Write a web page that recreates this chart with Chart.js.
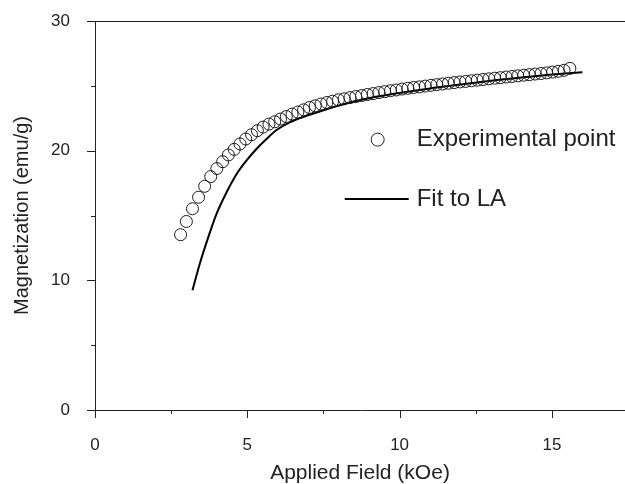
<!DOCTYPE html>
<html>
<head>
<meta charset="utf-8">
<script src="https://cdn.jsdelivr.net/npm/chart.js@4.4.1/dist/chart.umd.min.js"></script>
<style>
  html, body { margin: 0; padding: 0; background: #fff; }
  canvas { display: block; }
</style>
</head>
<body>
<canvas id="magChart" width="625" height="484"></canvas>
<script>
// measured magnetization (open circles)
const expField = [2.81, 3.00, 3.20, 3.40, 3.60, 3.80, 4.00, 4.19, 4.38, 4.57, 4.76, 4.95, 5.14, 5.33, 5.52, 5.71, 5.90,
  6.09, 6.28, 6.47, 6.66, 6.85, 7.04, 7.23, 7.42, 7.61, 7.80, 7.99, 8.18, 8.37, 8.56, 8.75, 8.94, 9.13, 9.32, 9.51,
  9.70, 9.89, 10.08, 10.27, 10.46, 10.65, 10.84, 11.03, 11.22, 11.41, 11.60, 11.79, 11.98, 12.17, 12.36, 12.55, 12.74,
  12.93, 13.12, 13.31, 13.50, 13.69, 13.88, 14.07, 14.26, 14.45, 14.64, 14.83, 15.02, 15.21, 15.40, 15.59];
const expMag = [13.52, 14.54, 15.52, 16.41, 17.25, 18.00, 18.62, 19.15, 19.67, 20.10, 20.52, 20.90, 21.23, 21.54, 21.82, 22.05, 22.23,
  22.44, 22.63, 22.82, 22.98, 23.15, 23.33, 23.46, 23.60, 23.71, 23.81, 23.92, 24.00, 24.09, 24.17, 24.25, 24.33, 24.40, 24.48, 24.55,
  24.62, 24.68, 24.75, 24.81, 24.87, 24.92, 24.98, 25.04, 25.09, 25.14, 25.20, 25.25, 25.30, 25.34, 25.39, 25.44, 25.49,
  25.54, 25.59, 25.63, 25.68, 25.72, 25.77, 25.82, 25.86, 25.91, 25.95, 26.00, 26.06, 26.12, 26.20, 26.35];

// law-of-approach fit curve
const fitField = [3.20, 3.44, 3.72, 3.99, 4.32, 4.65, 4.97, 5.30, 5.63, 5.96, 6.39, 6.94, 7.60, 8.36, 9.00, 10.00, 11.00, 12.00, 13.00, 14.00, 15.00, 16.00];
const fitMag = [9.23, 11.28, 13.33, 15.13, 16.79, 18.20, 19.23, 20.13, 20.90, 21.59, 22.18, 22.69, 23.20, 23.72, 24.05, 24.45, 24.80, 25.10, 25.40, 25.65, 25.87, 26.05];

const xMajorTicks = [0, 5, 10, 15];
const yMajorTicks = [0, 10, 20, 30];

const FONT = '"Liberation Sans", Arial, Helvetica, sans-serif';
const INK = '#222';

Chart.defaults.font.family = FONT;
Chart.defaults.color = INK;

// tick marks (major long, minor short, pointing outward) and the top frame line
const frameTicks = {
  id: 'frameTicks',
  afterDraw(chart) {
    const { ctx, chartArea, scales } = chart;
    ctx.save();
    ctx.strokeStyle = INK;
    ctx.lineWidth = 1;
    ctx.beginPath();
    scales.x.ticks.forEach(t => {
      const px = Math.round(scales.x.getPixelForValue(t.value)) + 0.5;
      const len = xMajorTicks.includes(t.value) ? 8 : 4;
      ctx.moveTo(px, chartArea.bottom);
      ctx.lineTo(px, chartArea.bottom + len);
    });
    scales.y.ticks.forEach(t => {
      const py = Math.round(scales.y.getPixelForValue(t.value)) + 0.5;
      const len = yMajorTicks.includes(t.value) ? 8 : 4;
      ctx.moveTo(chartArea.left, py);
      ctx.lineTo(chartArea.left - len, py);
    });
    const top = Math.round(chartArea.top) + 0.5;
    ctx.moveTo(chartArea.left, top);
    ctx.lineTo(chartArea.right, top);
    ctx.stroke();
    ctx.restore();
  }
};

// in-plot legend, anchored in data units
const keyBox = {
  id: 'keyBox',
  afterDatasetsDraw(chart, args, opts) {
    const { ctx, scales } = chart;
    const X = v => scales.x.getPixelForValue(v);
    const Y = v => scales.y.getPixelForValue(v);
    ctx.save();
    ctx.font = `${opts.fontSize}px ${FONT}`;
    ctx.fillStyle = INK;
    ctx.textBaseline = 'middle';
    ctx.textAlign = 'left';

    ctx.strokeStyle = INK;
    ctx.lineWidth = 1;
    ctx.beginPath();
    ctx.arc(X(opts.markX), Y(opts.rowA), 6.5, 0, Math.PI * 2);
    ctx.stroke();
    ctx.fillText('Experimental point', X(opts.textX), Y(opts.rowA));

    ctx.lineWidth = 2;
    ctx.strokeStyle = '#000';
    ctx.beginPath();
    ctx.moveTo(X(opts.lineFrom), Y(opts.rowB));
    ctx.lineTo(X(opts.lineTo), Y(opts.rowB));
    ctx.stroke();
    ctx.fillText('Fit to LA', X(opts.textX), Y(opts.rowB));
    ctx.restore();
  }
};

new Chart(document.getElementById('magChart'), {
  type: 'scatter',
  data: {
    datasets: [
      {
        label: 'Experimental point',
        data: expField.map((h, i) => ({ x: h, y: expMag[i] })),
        showLine: false,
        pointStyle: 'circle',
        pointRadius: 6,
        pointBorderWidth: 1,
        pointBorderColor: '#1a1a1a',
        pointBackgroundColor: 'rgba(0,0,0,0)'
      },
      {
        label: 'Fit to LA',
        data: fitField.map((h, i) => ({ x: h, y: fitMag[i] })),
        showLine: true,
        borderColor: '#000',
        borderWidth: 2,
        pointRadius: 0,
        cubicInterpolationMode: 'monotone'
      }
    ]
  },
  options: {
    responsive: false,
    animation: false,
    layout: { autoPadding: false, padding: { top: 21, right: 0, bottom: 0, left: 0 } },
    plugins: {
      legend: { display: false },
      tooltip: { enabled: false },
      keyBox: { fontSize: 24, markX: 9.28, textX: 10.56, rowA: 20.85, rowB: 16.27, lineFrom: 8.2, lineTo: 10.3 }
    },
    scales: {
      x: {
        type: 'linear',
        min: 0,
        max: 17.4,
        grid: { display: false, drawTicks: false },
        border: { display: true, color: INK, width: 1 },
        ticks: {
          stepSize: 2.5,
          includeBounds: false,
          autoSkip: false,
          maxRotation: 0,
          padding: 25,
          font: { size: 17 },
          callback: v => xMajorTicks.includes(v) ? String(v) : ''
        },
        title: {
          display: true,
          text: 'Applied Field (kOe)',
          font: { size: 21, lineHeight: 1 },
          padding: { top: 0, bottom: 0 }
        },
        afterFit: s => { s.height = 74; s.paddingLeft = 0; s.paddingRight = 0; }
      },
      y: {
        type: 'linear',
        min: 0,
        max: 30,
        grid: { display: false, drawTicks: false },
        border: { display: true, color: INK, width: 1 },
        ticks: {
          stepSize: 5,
          autoSkip: false,
          padding: 25,
          font: { size: 17 },
          callback: v => yMajorTicks.includes(v) ? String(v) : ''
        },
        title: {
          display: true,
          text: 'Magnetization (emu/g)',
          font: { size: 20, lineHeight: 1 },
          padding: { top: 12, bottom: 0 }
        },
        afterFit: s => { s.width = 95; s.paddingTop = 0; s.paddingBottom = 0; }
      }
    }
  },
  plugins: [frameTicks, keyBox]
});
</script>
</body>
</html>
